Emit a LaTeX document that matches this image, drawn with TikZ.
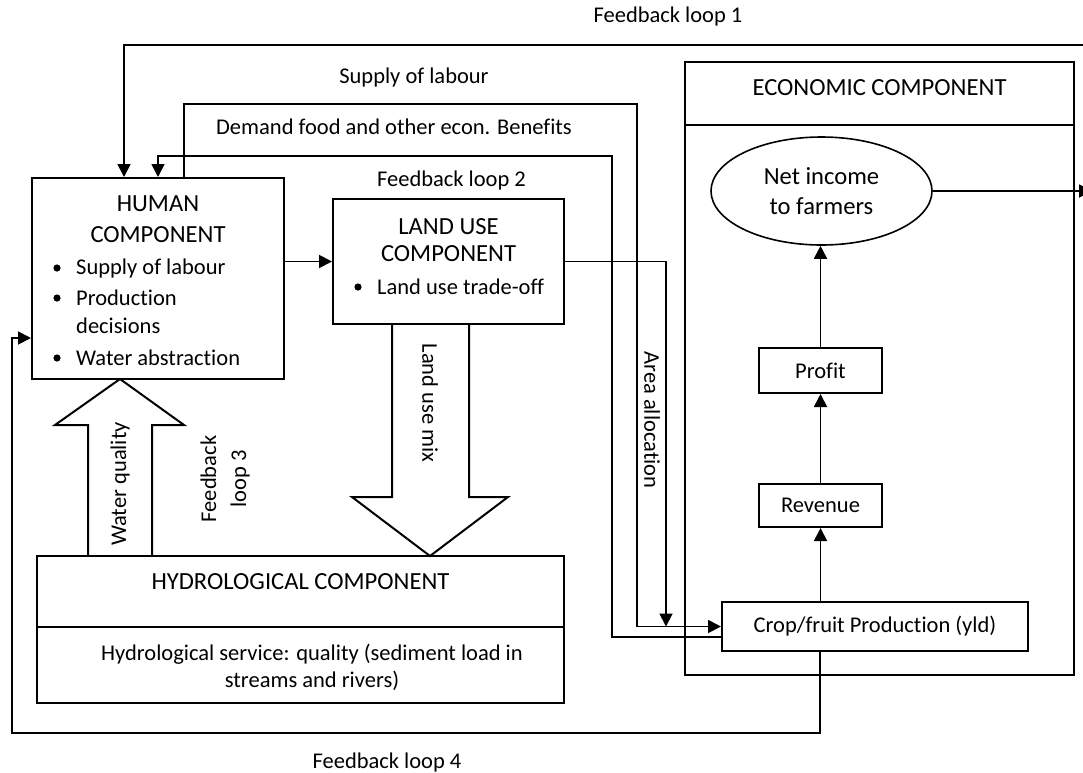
\documentclass[tikz,border=0pt]{standalone}
\usepackage{fontspec}
\setmainfont{Carlito}[Ligatures=NoCommon]
\usetikzlibrary{arrows.meta,shapes.geometric}
\newcommand{\fbig}{\fontsize{24.6}{30}\selectfont}
\newcommand{\fsmall}{\fontsize{22.5}{27}\selectfont}
\begin{document}
\begin{tikzpicture}[x=1pt,y=-1pt,
  box/.style={draw, line width=2pt, inner sep=0pt, font=\fsmall},
  conn/.style={line width=1.8pt, -{Triangle[length=13pt,width=13pt]}},
  plain/.style={line width=1.8pt},
  hollow/.style={draw, line width=2pt, line join=miter},
  txt/.style={inner sep=0pt, font=\fsmall},
  big/.style={inner sep=0pt, font=\fbig}]
\useasboundingbox (0,0) rectangle (1083,772);

% hollow block arrows
\draw[hollow] (88,556) -- (88,425) -- (55,425) -- (120,379) -- (184,425) -- (152,425) -- (152,556);
\draw[hollow] (392,324) -- (392,497) -- (352,497) -- (430,556) -- (508,497) -- (469,497) -- (469,324);

% boxes
\node[box, minimum width=252pt, minimum height=201pt] (human) at (158,278.5) {};
\node[box, minimum width=231pt, minimum height=125pt] (land) at (448.5,261.5) {};
\node[box, minimum width=389pt, minimum height=613pt] (econ) at (879.5,368.5) {};
\coordinate (ediv) at (0,125);
\draw[plain] (econ.west |- ediv) -- (econ.east |- ediv);
\node[box, minimum width=527pt, minimum height=147pt] (hydro) at (300.5,629.5) {};
\coordinate (hdiv) at (0,627);
\draw[plain] (hydro.west |- hdiv) -- (hydro.east |- hdiv);
\node[box, ellipse, line width=1.6pt, minimum width=221pt, minimum height=108pt, align=center, font=\fbig] (net) at (821.5,191) {Net income\\to farmers};
\node[box, minimum width=123pt, minimum height=45pt] (profit) at (820.5,370.5) {Profit};
\node[box, minimum width=123pt, minimum height=43pt] (revenue) at (820.5,505.5) {Revenue};
\node[box, minimum width=306pt, minimum height=49pt] (crop) at (875,626.5) {Crop/fruit Production (yld)};

% feedback loop 1
\coordinate (fa) at (1095,45);
\coordinate (fb) at (124,45);
\draw[conn] (fa) -- (fb) -- (fb |- human.north);
\coordinate (fc) at (1092,191);
\draw[conn] (net.east) -- (fc);

% supply of labour
\coordinate (s1) at (184,104);
\coordinate (s2) at (637,104);
\draw[conn] (s1 |- human.north) -- (s1) -- (s2) -- (s2 |- crop.west) -- (crop.west);

% demand food
\coordinate (cw2) at ([yshift=-10.5pt]crop.west);
\coordinate (d1) at (612,156);
\coordinate (d2) at (158,156);
\draw[conn] (cw2) -- (d1 |- cw2) -- (d1) -- (d2) -- (d2 |- human.north);

% area allocation
\coordinate (a1) at (666,262);
\draw[conn] (land.east) -- (a1 |- land.east) -- (a1 |- crop.west);

% feedback loop 4
\coordinate (g1) at (820,733);
\coordinate (g2) at (12,733);
\coordinate (g3) at (12,338);
\draw[conn] (g1 |- crop.south) -- (g1) -- (g2) -- (g3) -- (g3 -| human.west);

% economic chain
\draw[conn] (revenue.south |- crop.north) -- (revenue.south);
\draw[conn] (revenue.north) -- (profit.south);
\draw[conn] (profit.north) -- (profit.north |- net.south);

% human -> land
\draw[conn] (human.east |- land.west) -- (land.west);

% texts
\node[txt] (tfl1) at (668,16) {Feedback loop 1};
\node[txt] (tsup) at (414,77) {Supply of labour};
\node[txt] (tdem) at (394,127) {Demand food and other econ. Benefits};
\node[txt] (tfl2) at (451.5,180) {Feedback loop 2};

\node[big] (th1) at (158,204) {HUMAN};
\node[big] (th2) at (158,235) {COMPONENT};
\fill (57,268) circle (3.6);
\fill (57,298) circle (3.6);
\fill (57,358) circle (3.6);
\node[txt, anchor=west] (hb1) at (76,268) {Supply of labour};
\node[txt, anchor=west] (hb2) at (76,298) {Production};
\node[txt, anchor=west] (hb3) at (76,326) {decisions};
\node[txt, anchor=west] (hb4) at (76,358) {Water abstraction};

\node[big] (tl1) at (448.5,227) {LAND USE};
\node[big] (tl2) at (448.5,254) {COMPONENT};
\fill (358,287) circle (3.6);
\node[txt, anchor=west] (lb1) at (377,287) {Land use trade-off};

\node[big] (tec) at (879.5,88) {ECONOMIC COMPONENT};
\node[big] (thy) at (300.5,582) {HYDROLOGICAL COMPONENT};
\node[txt, align=center] (ths) at (312,667.5) {Hydrological service: quality (sediment load in\\streams and rivers)};

\node[txt, rotate=-90] (tlm) at (430,403) {Land use mix};
\node[txt, rotate=-90] (taa) at (652,420) {Area allocation};
\node[txt, rotate=90] (twq) at (120,484) {Water quality};
\node[txt, rotate=90, align=center, font=\fontsize{22.5}{30}\selectfont] (tfl3) at (225,479) {Feedback\\loop 3};
\node[txt] (tfl4) at (387,762) {Feedback loop 4};
\end{tikzpicture}
\end{document}
